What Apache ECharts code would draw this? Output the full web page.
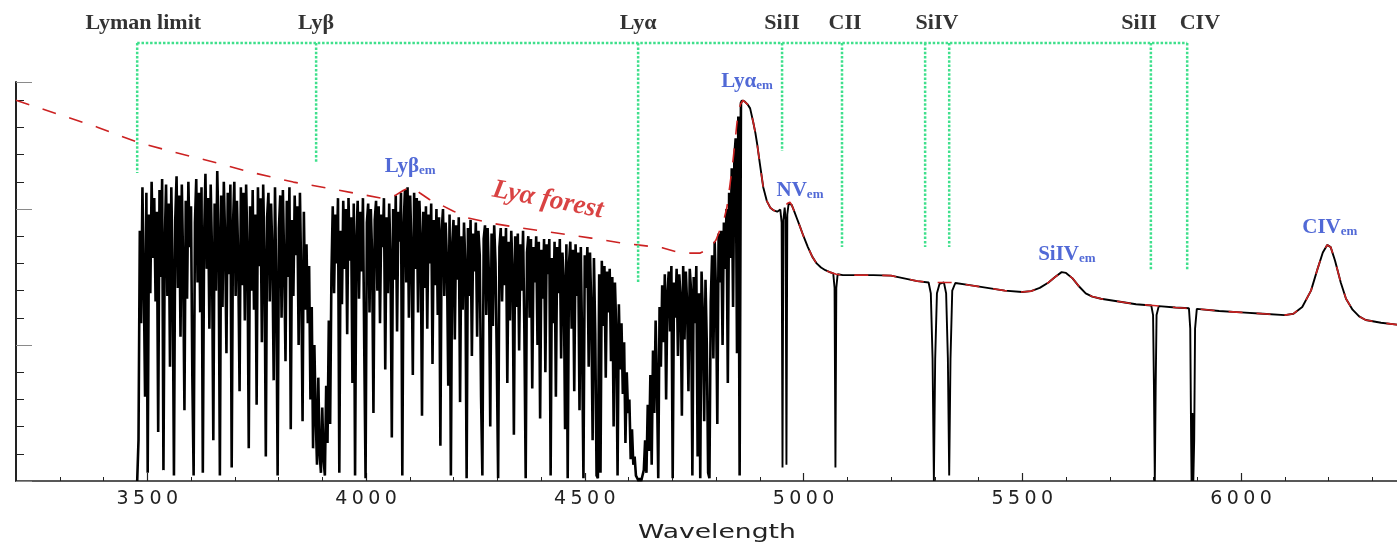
<!DOCTYPE html>
<html>
<head>
<meta charset="utf-8">
<script src="https://cdn.jsdelivr.net/npm/echarts@6/dist/echarts.min.js"></script>
<style>
html,body{margin:0;padding:0;background:#ffffff;}
#chart{width:1397px;height:543px;}
</style>
</head>
<body>
<div id="chart"></div>
<script>
// ---------------- DATA ----------------
// Lyman-alpha forest part of the spectrum, sampled every 3 Angstrom from 3477 A
const FOREST_START = 3477;
const FOREST_STEP = 3;
const forestFlux = [
 0, 1.5, 9.2, 5.8, 10.8, 7.4, 3.1, 10.6, 0.3, 9.8,
 6.9, 11.0, 8.2, 10.4, 6.6, 9.9, 1.8, 10.7, 7.5, 11.1,
 0.4, 8.8, 10.9, 6.8, 10.2, 4.2, 10.8, 7.7, 0.2, 9.6,
 11.2, 7.1, 10.5, 5.3, 10.9, 8.0, 2.6, 10.3, 6.7, 11.0,
 8.6, 10.1, 3.9, 0.2, 9.5, 11.1, 7.3, 10.6, 6.2, 10.8,
 0.3, 9.0, 11.3, 7.8, 10.4, 5.6, 10.9, 8.4, 1.5, 10.2,
 7.0, 11.4, 9.1, 0.2, 10.5, 6.4, 11.0, 8.9, 4.7, 10.6,
 7.6, 10.9, 0.5, 9.4, 11.0, 6.8, 10.3, 8.1, 3.3, 10.8,
 7.2, 10.6, 5.9, 10.9, 8.5, 1.2, 10.1, 7.0, 10.7, 6.3,
 9.8, 2.8, 10.8, 7.9, 10.4, 5.1, 10.9, 8.2, 0.9, 9.7,
 10.6, 6.6, 10.2, 8.4, 3.7, 10.8, 7.1, 0.2, 9.3, 10.5,
 6.0, 10.7, 8.0, 4.4, 10.3, 7.5, 10.8, 1.9, 9.6, 6.8,
 10.5, 8.3, 10.1, 5.0, 10.6, 7.4, 2.2, 9.9, 6.3, 8.7,
 5.8, 7.9, 3.0, 6.4, 1.2, 5.0, 2.4, 0.6, 3.8, 1.0,
 0.3, 2.7, 0.8, 0.2, 3.5, 1.4, 5.9, 2.1, 7.6,
 10.1, 6.9, 9.8, 8.0, 10.4, 0.3, 9.2, 6.5, 10.3, 7.8, 10.0,
 5.4, 10.4, 8.1, 9.7, 3.6, 10.2, 0.2, 8.9, 10.3, 6.7,
 9.9, 7.7, 10.4, 4.9, 0.1, 9.5, 10.2, 6.2, 10.0, 8.3,
 2.5, 9.6, 10.3, 7.0, 10.1, 5.8, 9.8, 8.6, 10.4, 4.1,
 9.7, 6.9, 10.2, 8.2, 1.6, 10.0, 7.4, 10.5, 5.5, 9.9,
 8.8, 10.6, 0.2, 9.4, 10.7, 7.3, 10.8, 6.0, 10.5, 8.5,
 3.9, 10.6, 7.8, 10.4, 6.2, 10.3, 9.0, 2.4, 9.9, 7.1,
 10.1, 5.6, 9.8, 8.0, 10.2, 4.3, 9.6, 7.2, 10.0, 6.1,
 9.7, 1.3, 9.2, 10.0, 6.8, 9.5, 8.1, 3.5, 9.8, 0.2,
 8.7, 9.6, 5.2, 9.4, 7.4, 9.7, 2.9, 9.0, 6.3, 9.5,
 8.0, 0.1, 9.3, 6.8, 9.6, 4.6, 9.1, 7.7, 9.5, 5.3,
 9.2, 8.3, 3.1, 0.2, 8.9, 9.4, 6.1, 9.3, 7.5, 2.0,
 9.1, 5.7, 9.4, 8.0, 4.4, 0.1, 8.6, 9.3, 6.6, 9.0,
 7.2, 9.3, 3.6, 8.8, 5.9, 9.2, 7.8, 1.7, 9.0, 6.4,
 9.1, 4.8, 8.7, 7.0, 9.2, 5.5, 0.1, 8.4, 9.0, 6.0,
 8.9, 3.4, 8.6, 7.3, 9.0, 5.0, 8.8, 2.3, 8.5, 6.7,
 8.9, 4.0, 8.7, 7.6, 8.9, 0.2, 8.2, 5.8, 8.8, 3.1,
 8.6, 6.9, 8.9, 4.5, 8.4, 7.4, 1.9, 8.7, 0.1, 8.0,
 8.8, 5.6, 8.5, 3.3, 8.7, 6.8, 8.4, 2.6, 8.6, 5.0,
 0.1, 8.3, 7.1, 8.6, 4.2, 8.4, 6.3, 1.5, 8.2, 5.4,
 0.2, 0.1, 7.6, 0.3, 8.1, 5.7, 7.9, 3.8, 7.7, 6.2,
 7.8, 4.4, 7.5, 2.0, 7.3, 5.6, 0.2, 6.5, 4.1, 5.8,
 3.2, 5.1, 1.4, 4.0, 2.5, 3.0, 0.8, 1.9, 0.6, 0.9, 0.2, 0.1,
 0, 0.1, 0, 0.2, 0.4, 1.5, 0.3, 2.8, 1.1,
 3.9, 0.6, 4.8, 2.5, 5.9, 3.6, 0.1, 6.4, 4.2,
 7.2, 5.1, 7.6, 3.0, 6.9, 7.7, 5.5, 7.9, 0.1, 7.3,
 6.0, 7.8, 4.6, 7.6, 6.8, 2.4, 7.9, 5.2, 7.7, 6.5,
 3.3, 7.8, 7.0, 0.2, 7.5, 5.8, 7.9, 0.9, 6.9, 0.1,
 7.7, 6.1, 2.2, 7.4, 5.0, 0.3, 0.1, 6.6,
 8.3, 4.5, 8.8, 6.9, 2.1, 9.1, 7.3, 9.2, 5.0, 9.5,
 7.8, 10.0, 3.6, 10.6, 8.2, 11.5, 6.4, 11.9, 12.6, 4.7,
 13.4, 0.2, 13.9, 14.0
];

// Red side of Ly-alpha emission and beyond (wavelength, flux); starts at the last forest sample
const smoothWave = [4860,4866,4872,4878,4885,4890,4894,4900,4908,4916,4924,4932,4940,4947,4950,4952,4954,4957,4959,4961,4963,4966,4969,4973,4978,4985,4992,5000,5010,5020,5030,5040,5050,5060,5068,5071,5073,5075,5078,5090,5160,5200,5230,5260,5286,5291,5295,5298,5301,5305,5311,5321,5326,5330,5333,5336,5340,5347,5380,5420,5460,5500,5520,5540,5560,5575,5590,5600,5615,5630,5645,5660,5680,5720,5760,5795,5799,5801,5803,5805,5807,5812,5850,5881,5884,5886,5887,5889,5891,5893,5895,5899,5950,6000,6050,6100,6120,6140,6160,6175,6187,6197,6205,6215,6228,6240,6255,6270,6285,6320,6356,6400];
const smoothFlux = [14.0,13.95,13.85,13.7,13.2,12.8,12.4,11.7,10.8,10.3,10.05,9.95,9.9,9.98,9.5,0.5,9.6,10.05,9.6,0.6,9.8,10.2,10.25,10.15,9.95,9.65,9.35,9.0,8.6,8.25,8.0,7.85,7.75,7.68,7.63,7.1,0.5,7.1,7.6,7.57,7.57,7.55,7.45,7.35,7.3,6.9,4.5,0.0,4.5,6.9,7.25,7.3,6.9,4.5,0.2,4.5,7.0,7.28,7.2,7.1,7.0,6.95,6.98,7.1,7.3,7.5,7.68,7.65,7.45,7.15,6.9,6.78,6.7,6.6,6.5,6.45,6.1,3.5,0.0,3.5,6.1,6.43,6.38,6.35,5.6,1.5,0,2.5,0,1.5,5.6,6.33,6.25,6.2,6.15,6.1,6.15,6.4,7.0,7.8,8.4,8.68,8.6,8.1,7.3,6.7,6.3,6.05,5.92,5.82,5.75,5.7];

// Fitted unabsorbed continuum (red dashed)
const contWave = [3200,3250,3301,3386,3477,3559,3651,3735,3834,3911,3975,4035,4067,4085,4099,4112,4124,4145,4163,4200,4233,4290,4355,4435,4515,4580,4620,4679,4711,4740,4764,4787,4800,4809,4818,4825,4832,4839,4845,4850,4856,4862,4866,4872,4878,4885,4890,4894,4900,4908,4916,4924,4932,4940,4948,4957,4963,4969,4973,4978,4985,4992,5000,5010,5020,5030,5040,5050,5060,5075,5090,5160,5200,5230,5260,5290,5320,5345,5380,5420,5460,5500,5520,5540,5560,5575,5590,5600,5615,5630,5645,5660,5680,5720,5760,5800,5850,5900,5950,6000,6050,6100,6120,6140,6160,6175,6187,6197,6205,6215,6228,6240,6255,6270,6285,6320,6356,6400];
const contFlux = [14.0,13.73,13.46,13.01,12.46,12.10,11.73,11.36,10.99,10.77,10.58,10.4,10.5,10.68,10.8,10.72,10.58,10.35,10.22,9.92,9.67,9.47,9.3,9.12,8.93,8.76,8.68,8.57,8.42,8.38,8.38,8.57,8.86,9.23,9.6,10.07,10.9,11.8,12.7,13.5,13.85,14.0,13.95,13.85,13.7,13.2,12.8,12.4,11.7,10.8,10.3,10.05,9.95,9.9,10.0,10.1,10.2,10.25,10.15,9.95,9.65,9.35,9.0,8.6,8.25,8.0,7.85,7.75,7.68,7.6,7.57,7.57,7.55,7.45,7.35,7.3,7.3,7.3,7.2,7.1,7.0,6.95,6.98,7.1,7.3,7.5,7.68,7.65,7.45,7.15,6.9,6.78,6.7,6.6,6.5,6.45,6.38,6.33,6.25,6.2,6.15,6.1,6.15,6.4,7.0,7.8,8.4,8.68,8.6,8.1,7.3,6.7,6.3,6.05,5.92,5.82,5.75,5.7];

// Absorber line markers (green dotted)
const markerWave   = [3477, 3886, 4622, 4951, 5088, 5278, 5333, 5794, 5877];
const markerBottom = [11.32, 11.69, 7.28, 12.13, 8.6, 8.6, 8.6, 7.76, 7.76];
const markerTop = 16.1;

// Absorber labels
const absLabels    = ['Lyman limit', 'Lyβ', 'Lyα', 'SiII', 'CII', 'SiIV', 'SiII', 'CIV'];
const absLabelWave = [3491, 3886, 4622, 4951, 5095, 5305, 5767, 5906];
const absLabelY = 16.84;

// Emission line labels
const emNames = ['Lyβ', 'Lyα', 'NV', 'SiIV', 'CIV'];
const emSub = 'em';
const emWave = [4101, 4871, 4992, 5602, 6203];
const emY = [11.58, 14.7, 10.7, 8.35, 9.34];

const forestLabel = 'Lyα forest';
const forestLabelPos = [4416, 10.33];

const xTickLabels = [3500, 4000, 4500, 5000, 5500, 6000];
const xTitle = 'Wavelength';

// ---------------- CHART ----------------
const forestData = forestFlux.map((f, i) => [FOREST_START + FOREST_STEP * i, f]);
const smoothData = smoothWave.map((w, i) => [w, smoothFlux[i]]);
const continuum = contWave.map((w, i) => [w, contFlux[i]]);

const GREEN = '#3fe08c';
const BLUE = '#2643cc';
const series = [];
series.push({
  type: 'line', xAxisIndex: 0, yAxisIndex: 0, data: forestData,
  symbol: 'none', showSymbol: false, sampling: null,
  lineStyle: { color: '#000', width: 2.6, join: 'miter', miterLimit: 2 }, z: 2, animation: false
});
series.push({
  type: 'line', xAxisIndex: 0, yAxisIndex: 0, data: smoothData,
  symbol: 'none', showSymbol: false, sampling: null,
  lineStyle: { color: '#000', width: 1.9 }, z: 2, animation: false
});
series.push({
  type: 'line', xAxisIndex: 0, yAxisIndex: 0, data: continuum,
  symbol: 'none', showSymbol: false, clip: false,
  lineStyle: { color: '#cc2222', width: 1.6, type: [14, 14] }, z: 3, animation: false
});
// horizontal bracket
series.push({
  type: 'line', xAxisIndex: 0, yAxisIndex: 0, clip: false, symbol: 'none',
  data: [[markerWave[0], markerTop], [markerWave[markerWave.length - 1], markerTop]],
  lineStyle: { color: GREEN, width: 2.5, type: [2.5, 1.8] }, z: 4, animation: false
});
markerWave.forEach((w, i) => {
  series.push({
    type: 'line', xAxisIndex: 0, yAxisIndex: 0, clip: false, symbol: 'none',
    data: [[w, markerTop], [w, markerBottom[i]]],
    lineStyle: { color: GREEN, width: 2.5, type: [2.5, 1.8] }, z: 4, animation: false
  });
});
// absorber labels
series.push({
  type: 'scatter', xAxisIndex: 0, yAxisIndex: 0, clip: false, silent: true,
  symbolSize: 1, itemStyle: { color: 'rgba(0,0,0,0)' },
  data: absLabelWave.map((w, i) => ({ value: [w, absLabelY], name: absLabels[i] })),
  label: {
    show: true, position: 'inside', formatter: p => p.name,
    fontFamily: 'Liberation Serif', fontWeight: 'bold', fontSize: 22, color: '#000'
  }, z: 5, animation: false
});
// emission labels
series.push({
  type: 'scatter', xAxisIndex: 0, yAxisIndex: 0, clip: false, silent: true,
  symbolSize: 1, itemStyle: { color: 'rgba(0,0,0,0)' },
  data: emWave.map((w, i) => ({ value: [w, emY[i]], name: emNames[i] })),
  label: {
    show: true, position: 'inside',
    formatter: p => '{m|' + p.name + '}{s|' + emSub + '}',
    rich: {
      m: { fontFamily: 'Liberation Serif', fontWeight: 'bold', fontSize: 21, color: BLUE, lineHeight: 22, verticalAlign: 'bottom' },
      s: { fontFamily: 'Liberation Serif', fontWeight: 'bold', fontSize: 13, color: BLUE, lineHeight: 8, verticalAlign: 'bottom' }
    }
  }, z: 5, animation: false
});
// forest label
series.push({
  type: 'scatter', xAxisIndex: 0, yAxisIndex: 0, clip: false, silent: true,
  symbolSize: 1, itemStyle: { color: 'rgba(0,0,0,0)' },
  data: [{ value: forestLabelPos, name: forestLabel }],
  label: {
    show: true, position: 'inside', formatter: p => p.name, rotate: -11,
    fontFamily: 'Liberation Serif', fontWeight: 'bold', fontStyle: 'italic', fontSize: 27, color: '#d01414'
  }, z: 5, animation: false
});

const digitRich = { d: { width: 16.5, align: 'center', fontFamily: 'DejaVu Sans', fontSize: 19, color: '#222' } };

const option = {
  backgroundColor: '#ffffff',
  animation: false,
  grid: [
    { left: 16, right: -19, top: 82, bottom: 62, containLabel: false, outerBoundsMode: 'none' },
    { left: -71.5, right: -19, top: 82, bottom: 62, containLabel: false, outerBoundsMode: 'none' }
  ],
  xAxis: [
    {
      gridIndex: 0, type: 'value', min: 3200, max: 6400, interval: 100, position: 'bottom',
      axisLine: { show: true, onZero: false, lineStyle: { color: '#222', width: 1.5 } },
      axisTick: { show: true, inside: true, length: 4, lineStyle: { color: '#222', width: 1 } },
      axisLabel: { show: false }, splitLine: { show: false }
    },
    {
      gridIndex: 1, type: 'value', min: 3000, max: 6400, interval: 500, position: 'bottom',
      axisLine: { show: false },
      axisTick: { show: true, inside: true, length: 8, lineStyle: { color: '#222', width: 1.2 } },
      axisLabel: {
        show: true, margin: 9,
        formatter: v => xTickLabels.indexOf(v) >= 0 ? String(v).split('').map(c => '{d|' + c + '}').join('') : '',
        rich: digitRich
      },
      splitLine: { show: false }
    }
  ],
  yAxis: [
    {
      gridIndex: 0, type: 'value', min: 0, max: 14.67, interval: 1, position: 'left',
      axisLine: { show: true, onZero: false, lineStyle: { color: '#222', width: 2 } },
      axisTick: { show: true, inside: true, length: 8, lineStyle: { color: '#222', width: 1 } },
      axisLabel: { show: false }, splitLine: { show: false }
    },
    {
      gridIndex: 0, type: 'value', min: 0, max: 14.67, interval: 5, position: 'left',
      axisLine: { show: false },
      axisTick: { show: true, inside: true, length: 16, lineStyle: { color: '#8a8a8a', width: 1 } },
      axisLabel: { show: false }, splitLine: { show: false }
    },
    { gridIndex: 1, type: 'value', min: 0, max: 1, show: false }
  ],
  graphic: [
    {
      type: 'text', x: 717, y: 533, scaleX: 1.4, silent: true,
      style: { text: xTitle, font: '19px "DejaVu Sans"', fill: '#222', align: 'center', verticalAlign: 'middle', textAlign: 'center', textVerticalAlign: 'middle' }
    }
  ],
  series: series
};

const chart = echarts.init(document.getElementById('chart'), null, { renderer: 'canvas' });
chart.setOption(option);
</script>
</body>
</html>
